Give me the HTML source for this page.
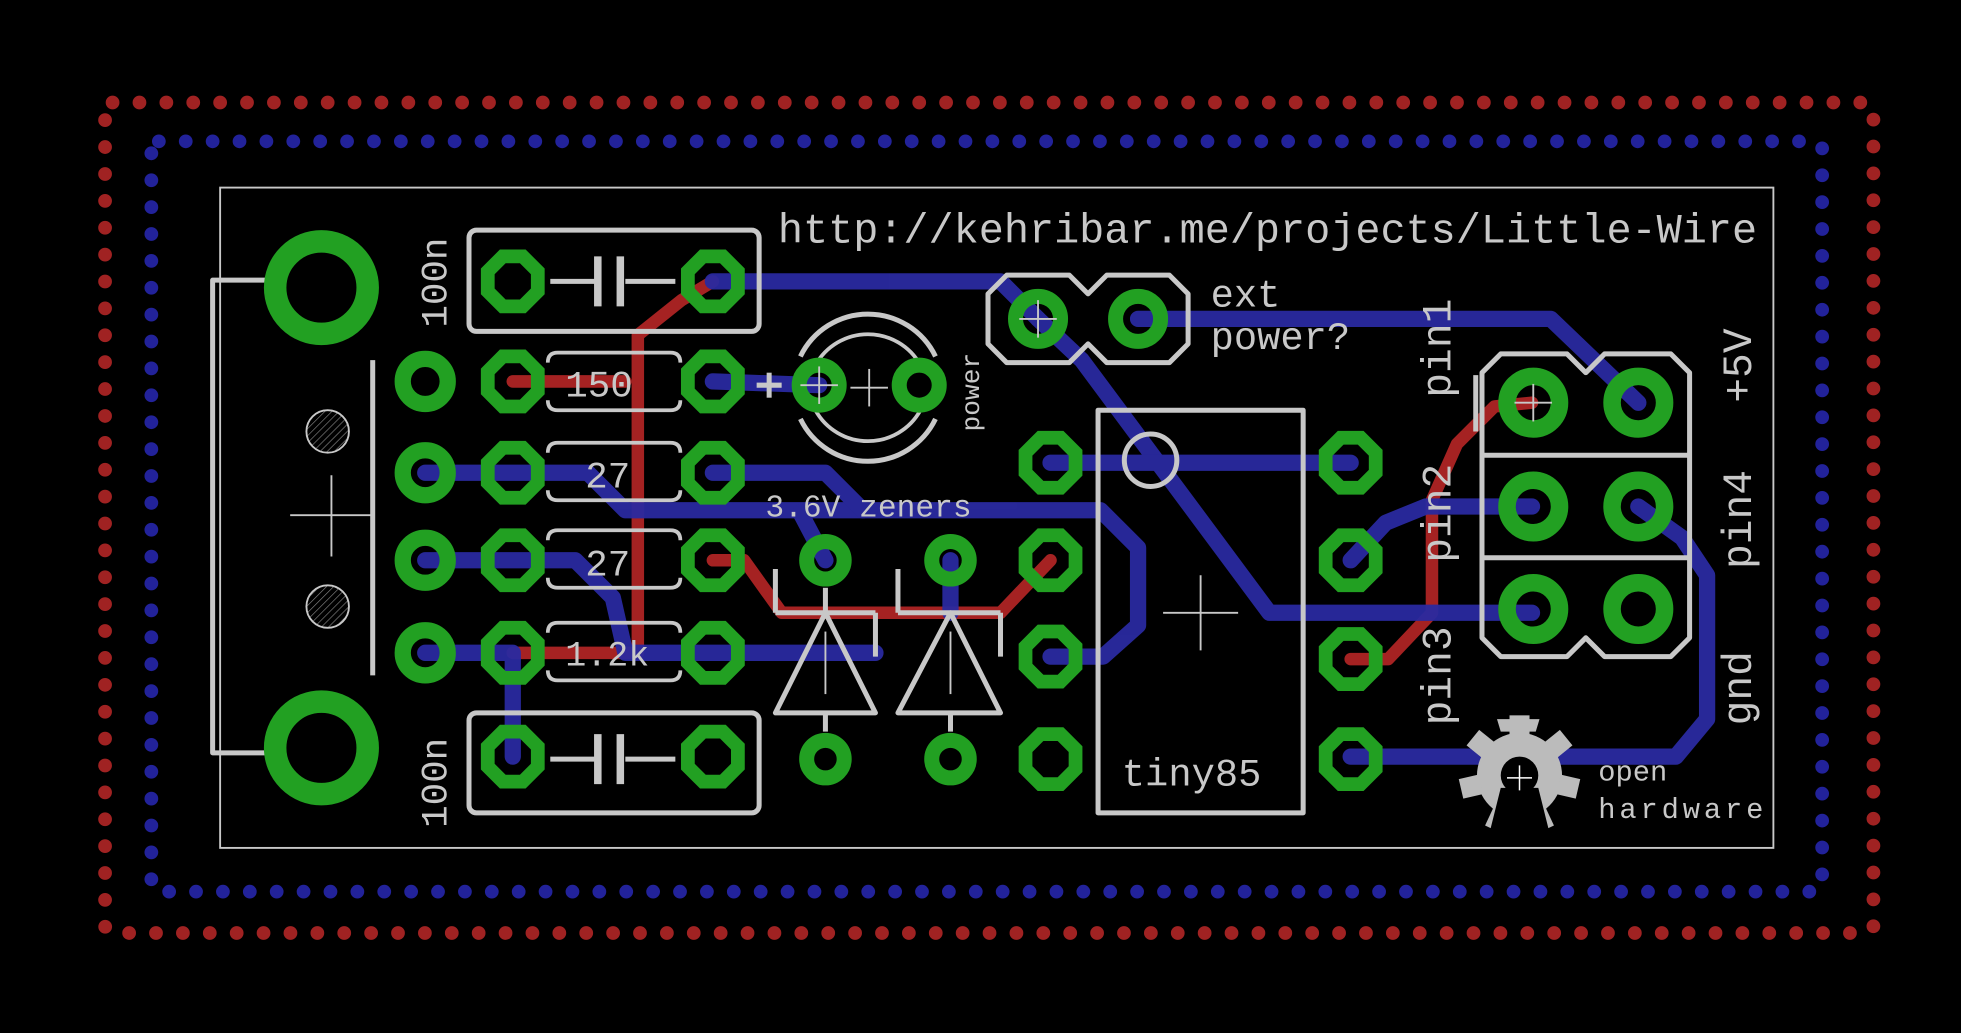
<!DOCTYPE html>
<html><head><meta charset="utf-8"><style>
html,body{margin:0;padding:0;background:#000;width:1961px;height:1033px;overflow:hidden}
svg{display:block}
text{font-family:"Liberation Mono","DejaVu Sans Mono",monospace;fill:#c8c8c8}
</style></head><body>
<svg width="1961" height="1033" viewBox="0 0 1568 826" xmlns="http://www.w3.org/2000/svg">
<defs>
<pattern id="hatch" width="4" height="4" patternUnits="userSpaceOnUse" patternTransform="rotate(45)">
<rect width="4" height="4" fill="#000"/><line x1="0" y1="0" x2="0" y2="4" stroke="#888" stroke-width="1"/></pattern>
<polygon id="oct" points="-8,-20 8,-20 20,-8 20,8 8,20 -8,20 -20,8 -20,-8" fill="none" stroke="#22a022" stroke-width="11"/>
</defs>
<rect width="1568" height="826" fill="#000"/>
<rect x="84" y="82" width="1414" height="664" rx="6" fill="none" stroke="#a02222" stroke-width="11" stroke-linecap="round" stroke-dasharray="0 21.5"/>
<rect x="121" y="113" width="1336" height="600" rx="6" fill="none" stroke="#22229a" stroke-width="11" stroke-linecap="round" stroke-dasharray="0 21.5"/>
<rect x="176" y="150" width="1242" height="528" fill="none" stroke="#c8c8c8" stroke-width="1.5"/>

<g fill="none" stroke="#a52222" stroke-width="10" stroke-linejoin="round" stroke-linecap="round">
<polyline points="570,225 545,240 510,268 510,522 410,522"/>
<polyline points="410,305 500,305"/>
<polyline points="570,448 595,448 625,490 800,490 840,448"/>
<polyline points="1080,527 1110,527 1145,490 1145,400 1165,355 1195,325 1225,322"/>
</g>
<g fill="none" stroke="#2a2aa0" stroke-width="13" stroke-linejoin="round" stroke-linecap="round" opacity="0.95">
<polyline points="570,225 800,225 830,255"/>
<polyline points="830,255 865,288 1015,490 1225,490"/>
<polyline points="910,255 1240,255 1310,322"/>
<polyline points="340,378 470,378 500,408 880,408 910,438 910,500 882,525 840,525"/>
<polyline points="570,378 660,378 690,408"/>
<polyline points="640,410 660,448"/>
<polyline points="340,448 460,448 490,478 500,522 700,522"/>
<polyline points="340,522 410,522 410,605"/>
<polyline points="840,370 1080,370"/>
<polyline points="1080,448 1108,418 1140,405 1225,405"/>
<polyline points="1310,405 1345,430 1365,460 1365,575 1340,605 1080,605"/>
<polyline points="570,305 655,308"/>
<polyline points="760,448 760,490"/>
</g>

<g fill="none" stroke="#c8c8c8" stroke-width="4" stroke-linejoin="round">
<polyline points="215,224 170,224 170,602 215,602"/>
<line x1="298" y1="288" x2="298" y2="540"/>
<line x1="232" y1="412" x2="298" y2="412" stroke-width="1.5"/><line x1="265" y1="380" x2="265" y2="445" stroke-width="1.5"/>
<rect x="375" y="184" width="232" height="81" rx="6"/>
<rect x="375" y="570" width="232" height="80" rx="6"/>
<line x1="440" y1="225" x2="478" y2="225"/><line x1="500" y1="225" x2="540" y2="225"/>
<line x1="478" y1="205" x2="478" y2="245" stroke-width="6"/><line x1="496" y1="205" x2="496" y2="245" stroke-width="6"/>
<line x1="440" y1="607" x2="478" y2="607"/><line x1="500" y1="607" x2="540" y2="607"/>
<line x1="478" y1="587" x2="478" y2="627" stroke-width="6"/><line x1="496" y1="587" x2="496" y2="627" stroke-width="6"/>
<g stroke-width="3">
<path d="M438,290 q0,-8 8,-8 h90 q8,0 8,8 M438,320 q0,8 8,8 h90 q8,0 8,-8"/>
<path d="M438,362 q0,-8 8,-8 h90 q8,0 8,8 M438,392 q0,8 8,8 h90 q8,0 8,-8"/>
<path d="M438,432 q0,-8 8,-8 h90 q8,0 8,8 M438,462 q0,8 8,8 h90 q8,0 8,-8"/>
<path d="M438,506 q0,-8 8,-8 h90 q8,0 8,8 M438,536 q0,8 8,8 h90 q8,0 8,-8"/>
</g>
<path d="M640,285 A60,60 0 0 1 748,285"/><path d="M640,335 A60,60 0 0 0 748,335"/>
<path d="M652,292 A48,48 0 0 1 736,292" stroke-width="3"/><path d="M652,328 A48,48 0 0 0 736,328" stroke-width="3"/>
<line x1="680" y1="310" x2="710" y2="310" stroke-width="1.5"/><line x1="695" y1="295" x2="695" y2="325" stroke-width="1.5"/>
<line x1="605" y1="308" x2="625" y2="308" stroke-width="4"/><line x1="615" y1="298" x2="615" y2="318" stroke-width="4"/>
<polygon points="620,570 700,570 660,490"/><line x1="620" y1="490" x2="700" y2="490"/>
<line x1="660" y1="570" x2="660" y2="585"/><line x1="660" y1="470" x2="660" y2="490"/>
<polyline points="620,455 620,490"/><polyline points="700,490 700,525"/>
<polygon points="718,570 800,570 760,490"/><line x1="718" y1="490" x2="800" y2="490"/>
<line x1="760" y1="570" x2="760" y2="585"/><polyline points="718,455 718,490"/><polyline points="800,490 800,525"/>
<line x1="660" y1="505" x2="660" y2="555" stroke-width="1.5"/><line x1="760" y1="505" x2="760" y2="555" stroke-width="1.5"/>
<polygon points="805,220 855,220 870,235 885,220 935,220 950,235 950,275 935,290 885,290 870,275 855,290 805,290 790,275 790,235"/>
<rect x="878" y="328" width="164" height="322"/>
<circle cx="920" cy="368" r="21"/>
<line x1="930" y1="490" x2="990" y2="490" stroke-width="1.5"/><line x1="960" y1="460" x2="960" y2="520" stroke-width="1.5"/>
<polygon points="1200,283 1253,283 1268,298 1283,283 1336,283 1351,298 1351,510 1336,525 1283,525 1268,510 1253,525 1200,525 1185,510 1185,298"/>
<line x1="1185" y1="364" x2="1351" y2="364"/><line x1="1185" y1="446" x2="1351" y2="446"/>
<line x1="1180" y1="300" x2="1180" y2="345" stroke-width="4"/>
</g>
<circle cx="262" cy="345" r="17" fill="url(#hatch)" stroke="#c8c8c8" stroke-width="1.5"/>
<circle cx="262" cy="485" r="17" fill="url(#hatch)" stroke="#c8c8c8" stroke-width="1.5"/>

<g fill="none" stroke="#22a022">
<circle cx="257" cy="230" r="37" stroke-width="18"/>
<circle cx="257" cy="598" r="37" stroke-width="18"/>
<g stroke-width="13">
<circle cx="340" cy="305" r="18"/><circle cx="340" cy="378" r="18"/><circle cx="340" cy="448" r="18"/><circle cx="340" cy="522" r="18"/>
</g>
<g stroke-width="12">
<circle cx="655" cy="308" r="16"/><circle cx="735" cy="308" r="16"/>
<circle cx="660" cy="448" r="15"/><circle cx="760" cy="448" r="15"/><circle cx="660" cy="607" r="15"/><circle cx="760" cy="607" r="15"/>
<circle cx="830" cy="255" r="18"/><circle cx="910" cy="255" r="18"/>
</g>
<g stroke-width="14">
<circle cx="1226" cy="322" r="21"/><circle cx="1310" cy="322" r="21"/>
<circle cx="1226" cy="405" r="21"/><circle cx="1310" cy="405" r="21"/>
<circle cx="1226" cy="487" r="21"/><circle cx="1310" cy="487" r="21"/>
</g>
</g>
<g transform="scale(0.9)">
</g>
<use href="#oct" x="410" y="225"/><use href="#oct" x="410" y="305"/><use href="#oct" x="410" y="378"/><use href="#oct" x="410" y="448"/><use href="#oct" x="410" y="522"/><use href="#oct" x="410" y="605"/>
<use href="#oct" x="570" y="225"/><use href="#oct" x="570" y="305"/><use href="#oct" x="570" y="378"/><use href="#oct" x="570" y="448"/><use href="#oct" x="570" y="522"/><use href="#oct" x="570" y="605"/>
<use href="#oct" x="840" y="370"/><use href="#oct" x="840" y="448"/><use href="#oct" x="840" y="525"/><use href="#oct" x="840" y="607"/>
<use href="#oct" x="1080" y="370"/><use href="#oct" x="1080" y="448"/><use href="#oct" x="1080" y="527"/><use href="#oct" x="1080" y="607"/>
<g stroke="#c8c8c8" stroke-width="1.5">
<line x1="815" y1="255" x2="845" y2="255"/><line x1="830" y1="240" x2="830" y2="270"/>
<line x1="1211" y1="322" x2="1241" y2="322"/><line x1="1226" y1="307" x2="1226" y2="337"/>
<line x1="640" y1="308" x2="670" y2="308"/><line x1="655" y1="293" x2="655" y2="323"/>
</g>

<g fill="#bbb">
<path d="M1200,585 h28 l3,-10 h-34 z"/>
<circle cx="1215" cy="620" r="34"/>
<g transform="translate(1215,620)">
<rect x="-8" y="-48" width="16" height="16"/><rect x="-8" y="-48" width="16" height="16" transform="rotate(51)"/>
<rect x="-8" y="-48" width="16" height="16" transform="rotate(-51)"/><rect x="-8" y="-48" width="16" height="16" transform="rotate(103)"/>
<rect x="-8" y="-48" width="16" height="16" transform="rotate(-103)"/><rect x="-8" y="-48" width="16" height="16" transform="rotate(155)"/>
<rect x="-8" y="-48" width="16" height="16" transform="rotate(-155)"/>
</g>
</g>
<circle cx="1215" cy="620" r="15" fill="#000"/>
<polygon points="1200,630 1230,630 1240,670 1190,670" fill="#000"/>
<g stroke="#fff" stroke-width="1.2"><line x1="1205" y1="622" x2="1225" y2="622"/><line x1="1215" y1="612" x2="1215" y2="632"/></g>

<text x="622" y="194" font-size="33.5" textLength="783">http://kehribar.me/projects/Little-Wire</text>
<text x="968" y="245" font-size="31">ext</text>
<text x="968" y="279" font-size="31">power?</text>
<text x="612" y="413" font-size="25">3.6V zeners</text>
<text x="897" y="628" font-size="31">tiny85</text>
<text x="1278" y="624" font-size="23">open</text>
<text x="1278" y="654" font-size="23" textLength="132">hardware</text>
<text x="452" y="317" font-size="30">150</text>
<text x="468" y="390" font-size="30">27</text>
<text x="468" y="460" font-size="30">27</text>
<text x="452" y="532" font-size="28">1.2k</text>
<text transform="translate(357,262) rotate(-90)" font-size="30">100n</text>
<text transform="translate(357,662) rotate(-90)" font-size="30">100n</text>
<text transform="translate(783,345) rotate(-90)" font-size="21">power</text>
<text transform="translate(1160,318) rotate(-90)" font-size="33">pin1</text>
<text transform="translate(1160,450) rotate(-90)" font-size="33">pin2</text>
<text transform="translate(1160,580) rotate(-90)" font-size="33">pin3</text>
<text transform="translate(1400,322) rotate(-90)" font-size="33">+5V</text>
<text transform="translate(1400,455) rotate(-90)" font-size="33">pin4</text>
<text transform="translate(1400,580) rotate(-90)" font-size="33">gnd</text>
</svg>
</body></html>
